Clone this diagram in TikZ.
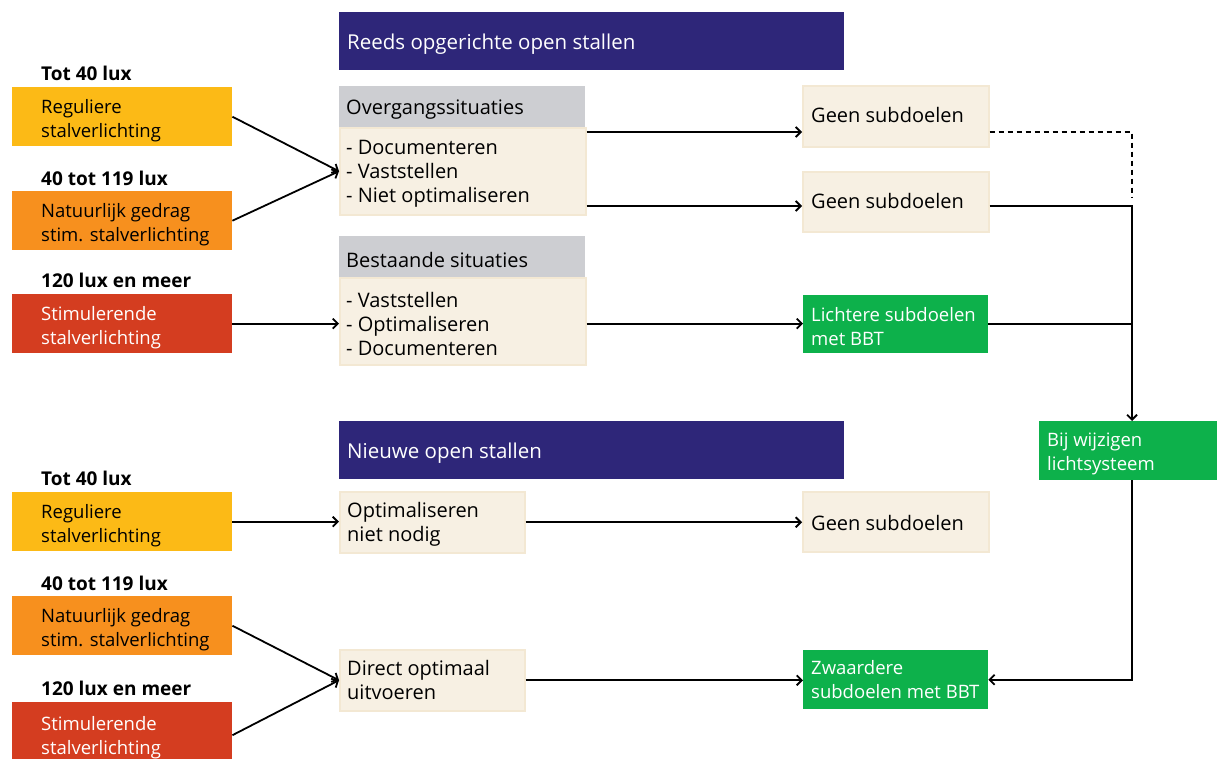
\documentclass[tikz,border=0pt]{standalone}
\usepackage{fontspec}
\setmainfont{Open Sans}
\usetikzlibrary{arrows.meta}
\definecolor{cpurple}{RGB}{46,38,121}
\definecolor{cyellow}{RGB}{252,186,22}
\definecolor{corange}{RGB}{247,144,30}
\definecolor{cred}{RGB}{212,61,32}
\definecolor{cgreen}{RGB}{13,177,75}
\definecolor{ccream}{RGB}{247,240,227}
\definecolor{ccreamline}{RGB}{243,232,211}
\definecolor{cgray}{RGB}{205,206,210}
\begin{document}
\begin{tikzpicture}[x=1pt,y=-1pt,
  txt/.style={anchor=west,inner sep=0pt,align=left,font=\fontsize{20}{24}\selectfont},
  ctxt/.style={anchor=west,inner sep=0pt,align=left,font=\fontsize{18.5}{24}\selectfont},
  ctxtw/.style={ctxt,text=white},
  htxt/.style={txt,text=white,font=\fontsize{20.5}{24}\selectfont},
  lbl/.style={anchor=west,inner sep=0pt,font=\fontsize{19}{22}\selectfont\bfseries},
  rect/.style n args={3}{anchor=north west,inner sep=0pt,minimum width=#1,minimum height=#2,fill=#3,draw=none},
  cream/.style n args={2}{anchor=north west,inner sep=0pt,minimum width=#1,minimum height=#2,fill=ccream,draw=ccreamline,line width=1.5pt},
  arr/.style={line width=1.8pt,-{Straight Barb[length=5pt,width=10pt,line width=1.8pt]}},
  ln/.style={line width=1.8pt},
  dln/.style={line width=1.8pt,dash pattern=on 5pt off 4pt}
]
\useasboundingbox (0,0) rectangle (1217,758);

% header bars
\node[rect={505}{58}{cpurple}] (h1) at (339,12) {};
\node[htxt] (h1t) at ([xshift=8pt,yshift=-3pt]h1.west) {Reeds opgerichte open stallen};
\node[rect={505}{58}{cpurple}] (h2) at (339,421) {};
\node[htxt] (h2t) at ([xshift=8pt,yshift=-3pt]h2.west) {Nieuwe open stallen};

% top left column
\node[lbl] (l1) at (41,73) {Tot 40 lux};
\node[rect={220}{59}{cyellow}] (y1) at (12,87) {};
\node[ctxt] (y1t) at ([xshift=29pt,yshift=-4pt]y1.west) {Reguliere\\stalverlichting};
\node[lbl] (l2) at (41,178) {40 tot 119 lux};
\node[rect={220}{59}{corange}] (o1) at (12,191) {};
\node[ctxt] (o1t) at ([xshift=29pt,yshift=-4pt]o1.west) {Natuurlijk gedrag\\stim. stalverlichting};
\node[lbl] (l3) at (41,280) {120 lux en meer};
\node[rect={220}{59}{cred}] (r1) at (12,294) {};
\node[ctxtw] (r1t) at ([xshift=29pt,yshift=-4pt]r1.west) {Stimulerende\\stalverlichting};

% situatie boxes
\node[cream={246}{87}] (ovb) at (339,127) {};
\node[rect={246}{41}{cgray}] (ovh) at (339,86) {};
\node[txt] (ovht) at ([xshift=7pt,yshift=-3pt]ovh.west) {Overgangssituaties};
\node[txt] (ovbt) at ([xshift=7pt,yshift=-3pt]ovb.west) {- Documenteren\\- Vaststellen\\- Niet optimaliseren};
\node[cream={246}{87}] (beb) at (339,277) {};
\node[rect={246}{41}{cgray}] (beh) at (339,236) {};
\node[txt] (beht) at ([xshift=7pt,yshift=-3pt]beh.west) {Bestaande situaties};
\node[txt] (bebt) at ([xshift=7pt,yshift=-3pt]beb.west) {- Vaststellen\\- Optimaliseren\\- Documenteren};

% right column top
\node[cream={186}{61}] (g1) at (802,85) {};
\node[txt] (g1t) at ([xshift=9pt,yshift=1pt]g1.west) {Geen subdoelen};
\node[cream={186}{60}] (g2) at (802,171) {};
\node[txt] (g2t) at ([xshift=9pt,yshift=1pt]g2.west) {Geen subdoelen};
\node[rect={185}{58}{cgreen}] (li) at (803,295) {};
\node[ctxtw] (lit) at ([xshift=8pt,yshift=-2pt]li.west) {Lichtere subdoelen\\met BBT};
\node[rect={178}{59}{cgreen}] (bij) at (1039,421) {};
\node[ctxtw] (bijt) at ([xshift=8pt,yshift=-3pt]bij.west) {Bij wijzigen\\lichtsysteem};

% bottom left column
\node[lbl] (l4) at (41,478) {Tot 40 lux};
\node[rect={220}{59}{cyellow}] (y2) at (12,492) {};
\node[ctxt] (y2t) at ([xshift=29pt,yshift=-4pt]y2.west) {Reguliere\\stalverlichting};
\node[lbl] (l5) at (41,583) {40 tot 119 lux};
\node[rect={220}{59}{corange}] (o2) at (12,596) {};
\node[ctxt] (o2t) at ([xshift=29pt,yshift=-4pt]o2.west) {Natuurlijk gedrag\\stim. stalverlichting};
\node[lbl] (l6) at (41,688) {120 lux en meer};
\node[rect={220}{60}{cred}] (r2) at (12,702) {};
\node[ctxtw] (r2t) at ([xshift=29pt,yshift=-5pt]r2.west) {Stimulerende\\stalverlichting};

% bottom middle and right
\node[cream={185}{61}] (opt) at (339,491) {};
\node[txt] (optt) at ([xshift=8pt,yshift=-2pt]opt.west) {Optimaliseren\\niet nodig};
\node[cream={185}{61}] (dir) at (339,649) {};
\node[txt] (dirt) at ([xshift=8pt,yshift=0pt]dir.west) {Direct optimaal\\uitvoeren};
\node[cream={186}{60}] (g3) at (802,491) {};
\node[txt] (g3t) at ([xshift=9pt,yshift=-1pt]g3.west) {Geen subdoelen};
\node[rect={185}{59}{cgreen}] (zw) at (803,650) {};
\node[ctxtw] (zwt) at ([xshift=8pt,yshift=0pt]zw.west) {Zwaardere\\subdoelen met BBT};

\coordinate (tk) at (1132,0);

% connectors top
\draw[arr] (y1.east) -- (ovb.west);
\draw[arr] (o1.east) -- (ovb.west);
\draw[arr] (r1.east) -- (r1.east -| beb.west);
\draw[arr] ([yshift=-5pt]ovb.north east) coordinate (p1) -- (p1 -| g1.west);
\draw[arr] ([yshift=9.5pt]ovb.south east) coordinate (p2) -- (p2 -| g2.west);
\draw[arr] (r1.east -| beb.east) -- (r1.east -| li.west);
\draw[dln] (p1 -| g1.east) -| ([yshift=8pt]p2 -| tk);
\draw[arr] (p2 -| g2.east) -| (tk |- bij.north);
\draw[ln] (r1.east -| li.east) -- (r1.east -| tk);
\draw[arr] (tk |- bij.south) |- (zw.east);

% connectors bottom
\draw[arr] (y2.east) -- (y2.east -| opt.west);
\draw[arr] (opt.east) -- (opt.east -| g3.west);
\draw[arr] (o2.east) -- (dir.west);
\draw[arr] ([yshift=-3pt]r2.east) -- (dir.west);
\draw[arr] (dir.east) -- (dir.east -| zw.west);
\end{tikzpicture}
\end{document}
